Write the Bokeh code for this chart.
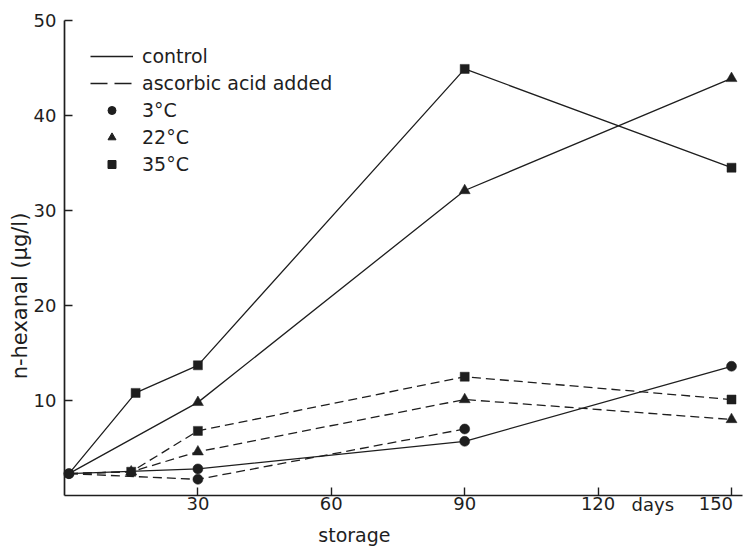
import math

from bokeh.plotting import figure
from bokeh.models import Range1d, FixedTicker, Legend, LegendItem, LinearAxis, Label
from bokeh.embed import file_html
from bokeh.resources import INLINE

FONT = "DejaVu Sans"
INK = "#1e1e1e"
NAN = float("nan")

# axis ticks
x_ticks = [30, 60, 90, 120, 150]
y_ticks = [10, 20, 30, 40, 50]

# n-hexanal (µg/l) over storage days -- control samples (solid lines)
ctrl_3_days = [1, 30, 90, 150]
ctrl_3_vals = [2.3, 2.8, 5.7, 13.6]
ctrl_22_days = [1, 30, 90, 150]
ctrl_22_vals = [2.3, 9.8, 32.1, 43.9]
ctrl_35_days = [1, 16, 30, 90, 150]
ctrl_35_vals = [2.3, 10.8, 13.7, 44.9, 34.5]

# ascorbic acid added (dashed lines)
asc_3_days = [1, 30, 90]
asc_3_vals = [2.3, 1.7, 7.0]
asc_22_days = [1, 15, 30, 90, 150]
asc_22_vals = [2.3, 2.5, 4.6, 10.1, 8.0]
asc_35_days = [1, 15, 30, 90, 150]
asc_35_vals = [2.3, 2.5, 6.8, 12.5, 10.1]

SOLID = "solid"
DASHED = "9 5"

# The frame covers the whole canvas; the axes sit at x = 0 and y = 0 and the
# ranges leave room around them for tick labels and axis titles.
p = figure(
    width=744, height=548,
    x_range=Range1d(-14.39, 152.92), y_range=Range1d(-5.58, 52.1),
    output_backend="svg", toolbar_location=None,
    x_axis_location=None, y_axis_location=None,
    min_border=0,
)
p.xgrid.visible = False
p.ygrid.visible = False
p.outline_line_color = None
p.background_fill_color = "white"
p.border_fill_color = "white"

xaxis = LinearAxis(fixed_location=0, bounds=(0, 152.5),
                   ticker=FixedTicker(ticks=x_ticks),
                   major_label_standoff=-2,
                   major_label_overrides={150: "150\u00a0\u00a0"})
yaxis = LinearAxis(fixed_location=0, bounds=(0, 50),
                   ticker=FixedTicker(ticks=y_ticks),
                   major_label_standoff=8)
for ax in (xaxis, yaxis):
    ax.axis_line_color = INK
    ax.axis_line_width = 1.7
    ax.major_tick_in = 8
    ax.major_tick_out = 0
    ax.major_tick_line_color = INK
    ax.major_tick_line_width = 1.4
    ax.minor_tick_line_color = None
    ax.major_label_text_font = FONT
    ax.major_label_text_font_size = "18px"
    ax.major_label_text_color = INK
p.add_layout(xaxis, "below")
p.add_layout(yaxis, "left")

series = [
    (ctrl_35_days, ctrl_35_vals, SOLID, "square", 9),
    (ctrl_22_days, ctrl_22_vals, SOLID, "triangle", 11),
    (ctrl_3_days, ctrl_3_vals, SOLID, "circle", 10),
    (asc_22_days, asc_22_vals, DASHED, "triangle", 11),
    (asc_35_days, asc_35_vals, DASHED, "square", 9),
    (asc_3_days, asc_3_vals, DASHED, "circle", 10),
]

for days, vals, dash, marker, size in series:
    p.line(days, vals, line_color=INK, line_width=1.3, line_dash=dash)

# markers; the shared starting point is shown with a circle only
for days, vals, dash, marker, size in series:
    if marker == "circle":
        xs, ys = days, vals
    else:
        xs, ys = days[1:], vals[1:]
    p.scatter(xs, ys, marker=marker, size=size,
              fill_color=INK, line_color=INK, line_width=0.5)

# legend swatches (a single NaN point each, nothing drawn in the frame)
sw_solid = p.line(x=[NAN], y=[NAN], line_color=INK, line_width=1.3)
sw_dash = p.line(x=[NAN], y=[NAN], line_color=INK, line_width=1.3, line_dash="17 7")
sw_circle = p.scatter(x=[NAN], y=[NAN], marker="circle", size=10, fill_color=INK, line_color=INK)
sw_tri = p.scatter(x=[NAN], y=[NAN], marker="triangle", size=11, fill_color=INK, line_color=INK)
sw_sq = p.scatter(x=[NAN], y=[NAN], marker="square", size=9, fill_color=INK, line_color=INK)

legend = Legend(
    items=[
        LegendItem(label="control", renderers=[sw_solid]),
        LegendItem(label="ascorbic acid added", renderers=[sw_dash]),
        LegendItem(label="3°C", renderers=[sw_circle]),
        LegendItem(label="22°C", renderers=[sw_tri]),
        LegendItem(label="35°C", renderers=[sw_sq]),
    ],
    location=(90, 373), margin=0, padding=0, spacing=5,
    glyph_width=43, glyph_height=20, label_standoff=9,
    label_text_font=FONT, label_text_font_size="19px", label_text_color=INK,
    background_fill_alpha=0, border_line_alpha=0,
)
p.add_layout(legend)

# axis titles and the unit on the storage axis
p.add_layout(Label(x=-9.9, y=21.0, text="n-hexanal (µg/l)", angle=math.pi / 2,
                   text_align="center", text_baseline="middle",
                   text_font=FONT, text_font_size="21px", text_color=INK))
p.add_layout(Label(x=65.2, y=-4.2, text="storage", text_align="center",
                   text_baseline="alphabetic",
                   text_font=FONT, text_font_size="19px", text_color=INK))
p.add_layout(Label(x=132.3, y=0.15, text="days", text_align="center",
                   text_baseline="top",
                   text_font=FONT, text_font_size="18px", text_color=INK))

open("out.html", "w").write(file_html(p, INLINE))
